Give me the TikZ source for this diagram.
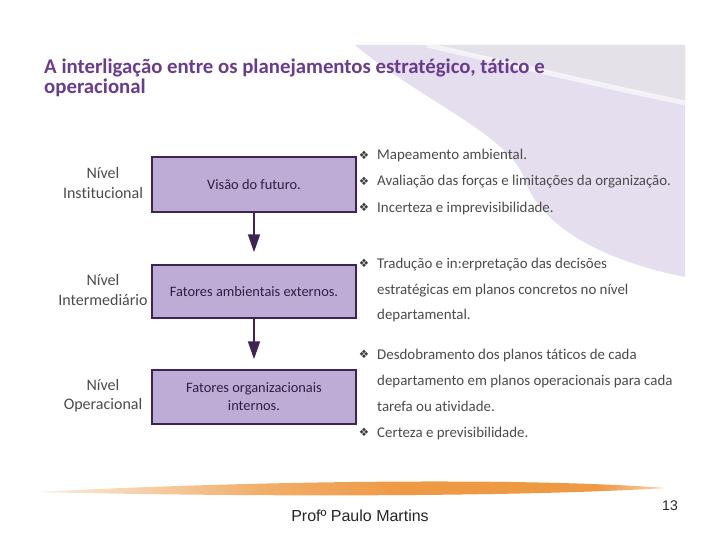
\documentclass[tikz,border=0pt]{standalone}
\usepackage{fontspec}
\setmainfont{Carlito}[Ligatures={CommonOff}]
\newfontfamily\arialf{Liberation Sans}
\newfontfamily\dvf{DejaVu Sans}
\usetikzlibrary{arrows.meta}
\definecolor{lav}{HTML}{E5DEEF}
\definecolor{grayb}{HTML}{E4E2E8}
\definecolor{boxfill}{HTML}{BEACD6}
\definecolor{boxline}{HTML}{3E2453}
\definecolor{titlec}{HTML}{6A3C8E}
\definecolor{txt}{HTML}{4A4A4A}
\definecolor{swoosh}{HTML}{EE9A45}
\tikzset{
  lvlbox/.style={draw=boxline, line width=1.5pt, fill=boxfill, minimum width=204pt, inner sep=0pt, text=boxline!80!black, font=\fontsize{14.4}{18}\selectfont, align=center},
  lvllabel/.style={text=txt, font=\fontsize{16}{19.5}\selectfont, align=center, inner sep=0pt},
  btxt/.style={anchor=base west, text=txt, font=\fontsize{14.9}{17}\selectfont, inner sep=0pt},
  bul/.style={text=txt!80!black, font=\dvf\fontsize{11.5}{13}\selectfont, inner sep=0pt},
  arr/.style={draw=boxline, line width=1.8pt, -{Triangle[width=12pt,length=18pt]}},
}
\begin{document}
\begin{tikzpicture}[x=1pt,y=-1pt]
\useasboundingbox (0,0) rectangle (720,540);
% background decoration
\fill[lav] (355,45) -- (685,45) -- (685,277) .. controls (600,260) and (540,225) .. (525,180) .. controls (510,135) and (420,100) .. (355,45) -- cycle;
\fill[grayb] (427,45) -- (685,45) -- (685,103) .. controls (600,85) and (500,62) .. (427,45) -- cycle;
\draw[white, line width=5pt, opacity=0.6] (427,45) .. controls (500,62) and (600,85) .. (685,103);
% title
\node[anchor=base west, inner sep=0pt, text=titlec, font=\bfseries\fontsize{20.8}{24}\selectfont] (t1) at (44,74) {A interligação entre os planejamentos estratégico, tático e};
\node[anchor=base west, inner sep=0pt, text=titlec, font=\bfseries\fontsize{20.8}{24}\selectfont] (t2) at (44,94) {operacional};
% boxes
\node[lvlbox, minimum height=55pt] (b1) at (254,184.5) {Visão do futuro.};
\node[lvlbox, minimum height=53pt] (b2) at (254,291.5) {Fatores ambientais externos.};
\node[lvlbox, minimum height=54pt, font=\fontsize{14.4}{18}\selectfont] (b3) at (254,397) {Fatores organizacionais\\internos.};
\draw[arr, shorten >=12pt] (b1) -- (b2);
\draw[arr, shorten >=10pt] (b2) -- (b3);
% level labels
\node[lvllabel] (l1) at (103,183) {Nível\\Institucional};
\node[lvllabel] (l2) at (103,290) {Nível\\Intermediário};
\node[lvllabel] (l3) at (103,395.5) {Nível\\Operacional};
% bullets
\node[bul] (p1) at (364,155) {❖};
\node[bul] (p2) at (364,181) {❖};
\node[bul] (p3) at (364,207) {❖};
\node[bul] (p4) at (364,263) {❖};
\node[bul] (p5) at (364,354) {❖};
\node[bul] (p6) at (364,432) {❖};
\node[btxt] (s1) at (377,160) {Mapeamento ambiental.};
\node[btxt] (s2) at (377,186) {Avaliação das forças e limitações da organização.};
\node[btxt] (s3) at (377,212) {Incerteza e imprevisibilidade.};
\node[btxt] (s4) at (377,268) {Tradução e in:erpretação das decisões};
\node[btxt] (s5) at (377,294) {estratégicas em planos concretos no nível};
\node[btxt] (s6) at (377,319) {departamental.};
\node[btxt] (s7) at (377,359) {Desdobramento dos planos táticos de cada};
\node[btxt] (s8) at (377,385) {departamento em planos operacionais para cada};
\node[btxt] (s9) at (377,411) {tarefa ou atividade.};
\node[btxt] (s10) at (377,437) {Certeza e previsibilidade.};
% orange swoosh
\begin{scope}
\clip (35,492) .. controls (250,481) and (520,477) .. (666,488) .. controls (520,497) and (250,497) .. (35,492) -- cycle;
\shade[left color=swoosh!15, right color=swoosh!80] (30,470) rectangle (260,510);
\shade[left color=swoosh!80, right color=swoosh] (260,470) rectangle (400,510);
\fill[swoosh] (400,470) rectangle (600,510);
\shade[left color=swoosh, right color=swoosh!40] (600,470) rectangle (670,510);
\end{scope}
% footer
\node[inner sep=0pt, font=\arialf\fontsize{16}{18}\selectfont, text=black!85] (f1) at (360,516) {Profº Paulo Martins};
\node[inner sep=0pt, font=\arialf\fontsize{14}{16}\selectfont, text=black!85] (f2) at (670,506) {13};
\end{tikzpicture}
\end{document}
